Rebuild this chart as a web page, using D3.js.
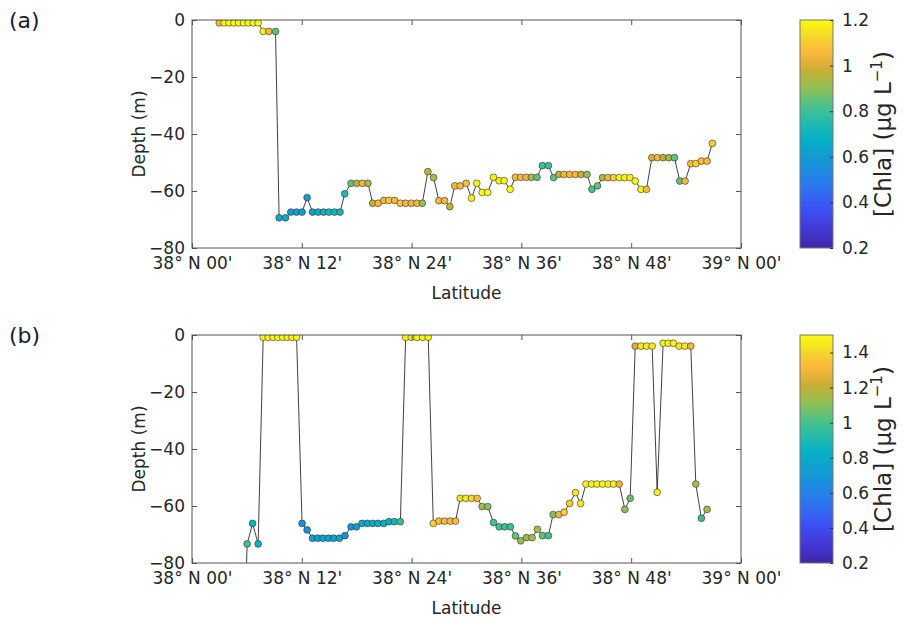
<!DOCTYPE html>
<html>
<head>
<meta charset="utf-8">
<script src="https://cdn.jsdelivr.net/npm/d3@7"></script>
<style>
  body { margin: 0; background: #fff; }
  text { font-family: "DejaVu Sans", sans-serif; fill: #262626; }
</style>
</head>
<body>
<svg id="chart" width="903" height="619"></svg>
<script>
// latitude in minutes north of 38° N
const latA = [2.98, 3.52, 4.04, 4.58, 5.09, 5.64, 6.14, 6.69, 7.23, 7.78, 8.40, 9.13,
  9.52, 10.22, 10.80, 11.42, 12.03, 12.58, 13.17, 13.78, 14.37, 14.95, 15.57, 16.18,
  16.69, 17.38, 18.00, 18.62, 19.23, 19.75, 20.35, 20.97, 21.52, 22.15, 22.77, 23.35,
  23.97, 24.58, 25.17, 25.78, 26.40, 26.98, 27.60, 28.18, 28.72, 29.31, 29.97, 30.55,
  31.12, 31.71, 32.32, 32.95, 33.57, 34.11, 34.77, 35.35, 35.92, 36.51, 37.09, 37.71,
  38.29, 38.95, 39.52, 40.09, 40.66, 41.27, 41.89, 42.51, 43.17, 43.71, 44.32, 44.87,
  45.46, 46.07, 46.69, 47.27, 47.86, 48.44, 49.06, 49.67, 50.26, 50.87, 51.49, 52.11,
  52.72, 53.31, 53.89, 54.51, 55.06, 55.67, 56.29, 56.87];
const depthA = [-1, -1, -1, -1, -1, -1, -1, -1, -1, -4, -4, -4,
  -69.4, -69.4, -67.4, -67.4, -67.4, -62.3, -67.4, -67.4, -67.4, -67.4, -67.4, -67.4,
  -61, -57.3, -57.3, -57.3, -57.3, -64.3, -64.3, -63.3, -63.3, -63.3, -64.3, -64.3,
  -64.3, -64.3, -64.3, -53.2, -55.3, -63.4, -63.4, -65.5, -58.2, -58.2, -57.3, -62.5,
  -57.3, -60.5, -60.5, -55.2, -56.4, -56.4, -59.4, -55.2, -55.2, -55.2, -55.2, -55.2,
  -51.1, -51.1, -55.3, -54.2, -54.2, -54.2, -54.2, -54.2, -54.2, -59.4, -58.2, -55.3,
  -55.3, -55.3, -55.3, -55.3, -55.3, -56.5, -59.4, -59.4, -48.3, -48.3, -48.3, -48.3,
  -48.3, -56.5, -56.5, -50.4, -50.4, -49.5, -49.5, -43.3];
const chlaA = [1.05, 1.2, 1.2, 1.2, 1.2, 1.2, 1.2, 1.2, 1.2, 1.18, 1.05, 0.85,
  0.68, 0.68, 0.6, 0.6, 0.62, 0.6, 0.62, 0.68, 0.7, 0.72, 0.72, 0.72,
  0.75, 0.85, 0.95, 1.05, 0.95, 0.98, 1.05, 1.05, 1.1, 1.05, 1.1, 1.05,
  1.05, 1.05, 0.9, 0.95, 0.93, 1.05, 1.05, 0.98, 1.05, 1.05, 1.07, 1.18,
  1.18, 1.2, 1.2, 1.18, 1.18, 1.18, 1.2, 1.05, 1.05, 1.05, 0.95, 0.85,
  0.8, 0.8, 0.85, 0.95, 1.05, 1.05, 1.05, 0.98, 0.9, 0.82, 0.85, 0.95,
  1.05, 1.12, 1.18, 1.18, 1.18, 1.2, 1.18, 1.07, 1.0, 1.05, 0.95, 0.93,
  0.85, 0.85, 1.05, 1.07, 1.12, 1.07, 1.07, 1.1];

const latB = [5.81, 6.03, 6.62, 7.23, 7.78, 8.32, 8.86, 9.38, 9.91, 10.42, 10.93, 11.43,
  12.03, 12.58, 13.17, 13.75, 14.32, 14.91, 15.49, 16.11, 16.72, 17.38, 17.97, 18.58,
  19.17, 19.75, 20.32, 20.95, 21.52, 22.11, 22.77, 23.35, 23.97, 24.58, 25.20, 25.82,
  26.37, 26.98, 27.60, 28.22, 28.80, 29.31, 29.92, 30.55, 31.17, 31.71, 32.32, 32.95,
  33.57, 34.18, 34.80, 35.35, 35.92, 36.55, 37.17, 37.75, 38.32, 38.95, 39.46, 40.09,
  40.67, 41.27, 41.91, 42.47, 43.06, 43.67, 44.26, 44.87, 45.49, 46.07, 46.69, 47.31,
  47.89, 48.44, 49.06, 49.67, 50.29, 50.84, 51.49, 52.04, 52.61, 53.24, 53.86, 54.51,
  55.06, 55.67, 56.29];
const depthB = [-95, -73.3, -66.1, -73.3, -0.8, -0.8, -0.8, -0.8, -0.8, -0.8, -0.8, -0.8,
  -66.1, -68.4, -71.3, -71.3, -71.3, -71.3, -71.3, -71.3, -70.4, -67.3, -67.3, -66.1,
  -66.1, -66.1, -66.1, -66.1, -65.5, -65.5, -65.5, -0.8, -0.8, -0.8, -0.8, -0.8,
  -66.1, -65.3, -65.3, -65.3, -65.3, -57.3, -57.3, -57.3, -57.3, -60.2, -60.2, -65.8,
  -67.3, -67.3, -67.3, -70.5, -72.2, -71.1, -71.1, -68.2, -70.4, -70.4, -63, -63,
  -62.2, -59.1, -55.3, -59.1, -52.3, -52.3, -52.3, -52.3, -52.3, -52.3, -52.3, -61.2,
  -57.3, -3.9, -3.9, -3.9, -3.9, -55.2, -2.9, -2.9, -2.9, -3.9, -3.9, -3.9,
  -52.3, -64.3, -61.2];
const chlaB = [1.0, 1.0, 0.85, 0.85, 1.48, 1.48, 1.48, 1.48, 1.48, 1.48, 1.48, 1.48,
  0.65, 0.68, 0.75, 0.75, 0.76, 0.76, 0.77, 0.77, 0.65, 0.7, 0.72, 0.8,
  0.8, 0.8, 0.82, 0.82, 0.82, 0.88, 0.98, 1.48, 1.48, 1.48, 1.48, 1.48,
  1.4, 1.32, 1.32, 1.32, 1.32, 1.42, 1.45, 1.42, 1.32, 1.15, 1.08, 1.0,
  1.0, 0.98, 0.98, 1.05, 1.12, 1.12, 1.15, 1.15, 1.05, 1.0, 1.1, 1.3,
  1.38, 1.38, 1.45, 1.45, 1.48, 1.48, 1.48, 1.48, 1.48, 1.48, 1.3, 1.1,
  1.05, 1.25, 1.45, 1.45, 1.45, 1.47, 1.47, 1.47, 1.47, 1.45, 1.45, 1.3,
  1.15, 0.98, 1.15];

const latTicks = [0, 12, 24, 36, 48, 60];
const latTickLabels = ["38° N 00'", "38° N 12'", "38° N 24'", "38° N 36'", "38° N 48'", "39° N 00'"];
const depthTicks = [0, -20, -40, -60, -80];
const cbTicksA = [0.2, 0.4, 0.6, 0.8, 1, 1.2];
const cbTicksB = [0.2, 0.4, 0.6, 0.8, 1, 1.2, 1.4];

// parula-like colormap
const parulaPos = [0, 0.08, 0.18, 0.28, 0.38, 0.48, 0.56, 0.63, 0.7, 0.78, 0.86, 0.93, 1];
const parulaCol = ["#3e26a8", "#4437d4", "#3a55f4", "#2a7aec", "#1696d6", "#06afc4",
  "#26bcaa", "#4fc285", "#90c056", "#caae33", "#fbb83d", "#f4d92b", "#f9fb0e"];
const parulaScale = d3.scaleLinear().domain(parulaPos).range(parulaCol).clamp(true);

function parula(t) {
  return parulaScale(t);
}

const svg = d3.select("#chart");
const defs = svg.append("defs");

const plotLeft = 192, plotRight = 741, cbLeft = 800, cbWidth = 33;

function drawPanel(tag, top, lat, depth, chla, cmin, cmax, cbTicks) {
  const height = 228;
  const x = d3.scaleLinear().domain([0, 60]).range([plotLeft, plotRight]);
  const y = d3.scaleLinear().domain([-80, 0]).range([top + height, top]);
  const c = d3.scaleLinear().domain([cmin, cmax]).range([0, 1]);

  const clipId = "clip" + tag;
  defs.append("clipPath").attr("id", clipId)
    .append("rect").attr("x", plotLeft).attr("y", top)
    .attr("width", plotRight - plotLeft).attr("height", height);

  const pts = lat.map((d, i) => ({lat: d, depth: depth[i], chla: chla[i]}));

  const g = svg.append("g").attr("clip-path", "url(#" + clipId + ")");
  g.append("path")
    .datum(pts)
    .attr("fill", "none")
    .attr("stroke", "#111")
    .attr("stroke-width", 0.8)
    .attr("d", d3.line().x(d => x(d.lat)).y(d => y(d.depth)));

  g.selectAll("circle").data(pts).enter().append("circle")
    .attr("cx", d => x(d.lat))
    .attr("cy", d => y(d.depth))
    .attr("r", 3.4)
    .attr("fill", d => parula(c(d.chla)))
    .attr("stroke", "#333")
    .attr("stroke-width", 0.6);

  // axes
  const ax = svg.append("g");
  ax.append("g")
    .attr("transform", "translate(0," + (top + height) + ")")
    .call(d3.axisBottom(x).tickValues(latTicks).tickSize(-5).tickPadding(9)
      .tickFormat((d, i) => latTickLabels[i]));
  ax.append("g")
    .attr("transform", "translate(0," + top + ")")
    .call(d3.axisTop(x).tickValues(latTicks).tickSize(-5).tickFormat(""));
  ax.append("g")
    .attr("transform", "translate(" + plotLeft + ",0)")
    .call(d3.axisLeft(y).tickValues(depthTicks).tickSize(-5).tickPadding(7));
  ax.append("g")
    .attr("transform", "translate(" + plotRight + ",0)")
    .call(d3.axisRight(y).tickValues(depthTicks).tickSize(-5).tickFormat(""));
  ax.selectAll(".domain").remove();
  ax.selectAll(".tick line").attr("stroke", "#555");
  ax.selectAll(".tick text").style("font-size", "17px").attr("fill", "#262626");
  ax.append("rect")
    .attr("x", plotLeft).attr("y", top)
    .attr("width", plotRight - plotLeft).attr("height", height)
    .attr("fill", "none").attr("stroke", "#555").attr("stroke-width", 1);

  svg.append("text")
    .attr("x", (plotLeft + plotRight) / 2).attr("y", top + height + 51)
    .attr("text-anchor", "middle").style("font-size", "17px")
    .text("Latitude");
  svg.append("text")
    .attr("transform", "translate(145," + (top + height / 2) + ") rotate(-90)")
    .attr("text-anchor", "middle").style("font-size", "17px")
    .text("Depth (m)");
  svg.append("text")
    .attr("x", 9).attr("y", top + 8)
    .style("font-size", "22px").style("fill", "#1c1c2c")
    .text("(" + tag + ")");

  // colorbar
  const gradId = "grad" + tag;
  const grad = defs.append("linearGradient").attr("id", gradId)
    .attr("x1", 0).attr("y1", 1).attr("x2", 0).attr("y2", 0);
  d3.range(0, 1.0001, 0.02).forEach(t => {
    grad.append("stop").attr("offset", t).attr("stop-color", parula(t));
  });
  const cy = d3.scaleLinear().domain([cmin, cmax]).range([top + height, top]);
  svg.append("rect")
    .attr("x", cbLeft).attr("y", top).attr("width", cbWidth).attr("height", height)
    .attr("fill", "url(#" + gradId + ")")
    .attr("stroke", "#777").attr("stroke-width", 1);
  const cb = svg.append("g")
    .attr("transform", "translate(" + (cbLeft + cbWidth) + ",0)")
    .call(d3.axisRight(cy).tickValues(cbTicks).tickSize(-3).tickPadding(9)
      .tickFormat(d3.format("")));
  cb.select(".domain").remove();
  cb.selectAll(".tick line").attr("stroke", "#333");
  cb.selectAll(".tick text").style("font-size", "17px").attr("fill", "#262626");
  const lab = svg.append("text")
    .attr("transform", "translate(891," + (top + height / 2) + ") rotate(-90)")
    .attr("text-anchor", "middle").style("font-size", "23px");
  lab.append("tspan").text("[Chla] (μg L");
  lab.append("tspan").attr("dy", -9).style("font-size", "15px").text("−1");
  lab.append("tspan").attr("dy", 9).text(")");
}

drawPanel("a", 20, latA, depthA, chlaA, 0.2, 1.2, cbTicksA);
drawPanel("b", 335, latB, depthB, chlaB, 0.2, 1.5, cbTicksB);
</script>
</body>
</html>
